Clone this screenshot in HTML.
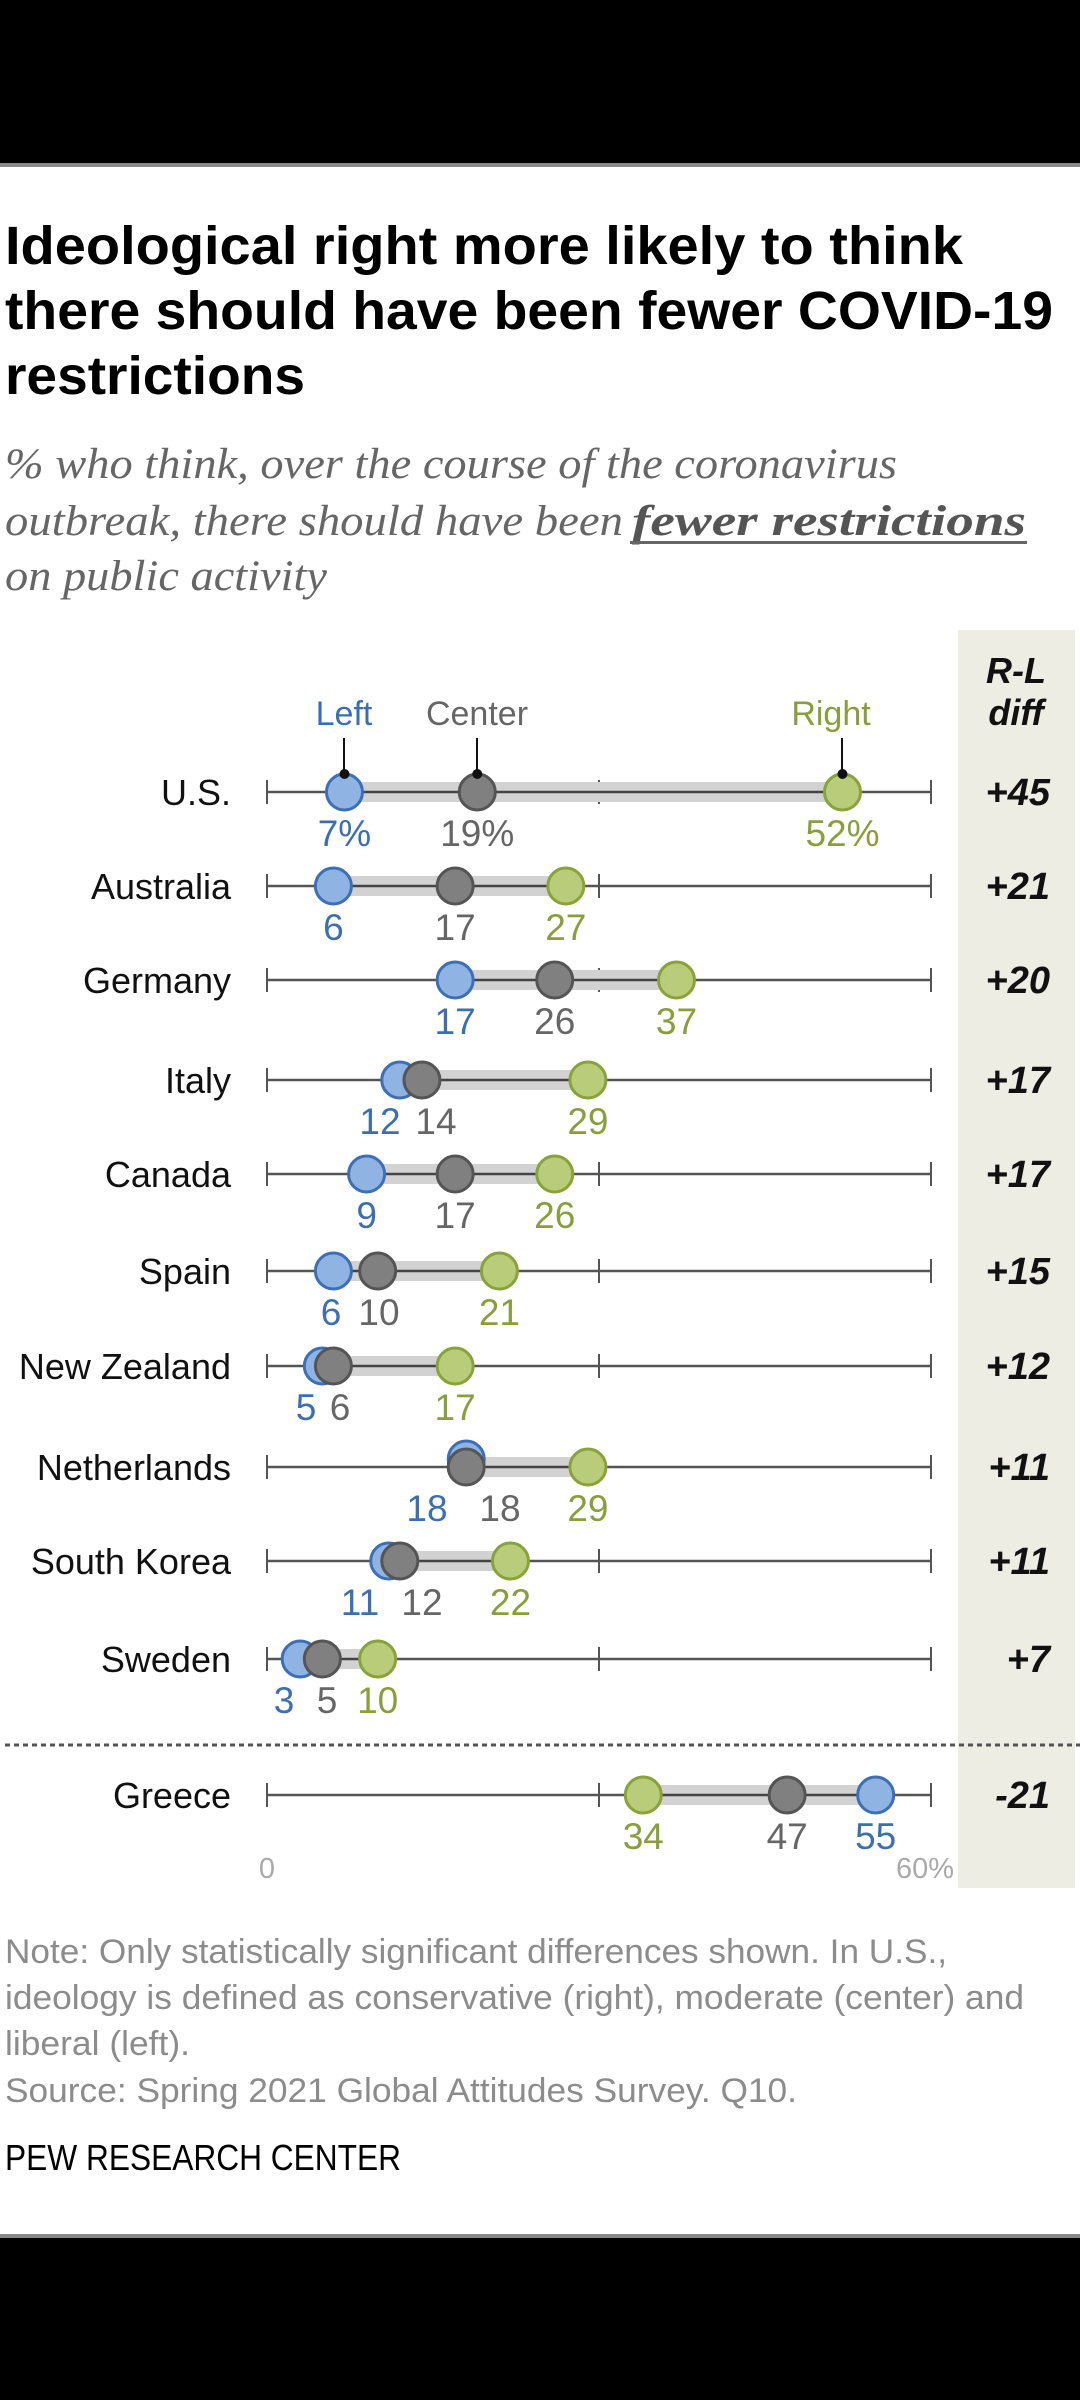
<!DOCTYPE html>
<html><head><meta charset="utf-8"><style>html,body{margin:0;padding:0;background:#fff}svg{display:block}</style></head><body>
<svg width="1080" height="2400" viewBox="0 0 1080 2400" xmlns="http://www.w3.org/2000/svg" font-family="'Liberation Sans', sans-serif">
<rect x="0" y="0" width="1080" height="163" fill="#000"/>
<rect x="0" y="163" width="1080" height="4" fill="#888"/>
<rect x="0" y="2234" width="1080" height="4" fill="#888"/>
<rect x="0" y="2238" width="1080" height="162" fill="#000"/>

<g font-weight="bold" font-size="54" fill="#000">
<text x="5" y="264" textLength="958" lengthAdjust="spacingAndGlyphs">Ideological right more likely to think</text>
<text x="5" y="329" textLength="1048" lengthAdjust="spacingAndGlyphs">there should have been fewer COVID-19</text>
<text x="5" y="394" textLength="300" lengthAdjust="spacingAndGlyphs">restrictions</text>
</g>
<g font-family="'Liberation Serif', serif" font-style="italic" font-size="43" fill="#666">
<text x="5" y="478" textLength="892" lengthAdjust="spacingAndGlyphs">% who think, over the course of the coronavirus</text>
<text x="5" y="535" textLength="618" lengthAdjust="spacingAndGlyphs">outbreak, there should have been</text>
<text x="632" y="535" textLength="394" lengthAdjust="spacingAndGlyphs" font-weight="bold" fill="#555">fewer restrictions</text>
<text x="5" y="590" textLength="322" lengthAdjust="spacingAndGlyphs">on public activity</text>
</g>
<rect x="630" y="541" width="397" height="3" fill="#666"/>

<rect x="958" y="630" width="117" height="1258" fill="#edede3"/>
<g font-weight="bold" font-style="italic" font-size="36" fill="#111" text-anchor="middle">
<text x="1016" y="683">R-L</text>
<text x="1016" y="725">diff</text>
</g>

<g font-size="34" text-anchor="middle">
<text x="344" y="725" fill="#3c6fb2">Left</text>
<text x="477" y="725" fill="#666">Center</text>
<text x="831" y="725" fill="#8a9e3c">Right</text>
</g>
<g stroke="#111" stroke-width="2">
<line x1="344" y1="738" x2="344" y2="772"/>
<line x1="477" y1="738" x2="477" y2="772"/>
<line x1="842" y1="738" x2="842" y2="772"/>
</g>

<g id="rows"></g>

<line x1="5" y1="1745" x2="1080" y2="1745" stroke="#555" stroke-width="3" stroke-dasharray="5,4"/>

<text x="267" y="1878" font-size="29" fill="#aaa" text-anchor="middle">0</text>
<text x="954" y="1878" font-size="29" fill="#aaa" text-anchor="end">60%</text>

<g font-size="34" fill="#8c8c8c">
<text x="5" y="1963" textLength="942" lengthAdjust="spacingAndGlyphs">Note: Only statistically significant differences shown. In U.S.,</text>
<text x="5" y="2009" textLength="1019" lengthAdjust="spacingAndGlyphs">ideology is defined as conservative (right), moderate (center) and</text>
<text x="5" y="2055" textLength="185" lengthAdjust="spacingAndGlyphs">liberal (left).</text>
<text x="5" y="2102" textLength="792" lengthAdjust="spacingAndGlyphs">Source: Spring 2021 Global Attitudes Survey. Q10.</text>
</g>
<text x="5" y="2170" font-size="36" fill="#000" textLength="396" lengthAdjust="spacingAndGlyphs">PEW RESEARCH CENTER</text>

<script>
(function(){
var NS="http://www.w3.org/2000/svg",g=document.getElementById("rows");
function X(v){return 267+v*11.067;}
function el(t,a,txt){var e=document.createElementNS(NS,t);for(var k in a)e.setAttribute(k,a[k]);if(txt!=null)e.textContent=txt;g.appendChild(e);return e;}
var rows=[
["U.S.",792,7,19,52,"+45",null,true],
["Australia",886,6,17,27,"+21"],
["Germany",980,17,26,37,"+20"],
["Italy",1080,12,14,29,"+17",[380,436]],
["Canada",1174,9,17,26,"+17"],
["Spain",1271,6,10,21,"+15",[331,379]],
["New Zealand",1366,5,6,17,"+12",[306,340]],
["Netherlands",1467,18,18,29,"+11",[427,500],false,-8],
["South Korea",1561,11,12,22,"+11",[360,422]],
["Sweden",1659,3,5,10,"+7",[284,327]],
["Greece",1795,55,47,34,"-21"]
];
rows.forEach(function(r){
var y=r[1],L=r[2],C=r[3],R=r[4];
el("text",{x:231,y:y+13,"font-size":36,fill:"#111","text-anchor":"end"},r[0]);
el("line",{x1:267,y1:y,x2:931,y2:y,stroke:"#555","stroke-width":2.5});
[267,599,931].forEach(function(x){el("line",{x1:x,y1:y-12,x2:x,y2:y+12,stroke:"#555","stroke-width":2});});
var mn=Math.min(L,C,R),mx=Math.max(L,C,R);
el("rect",{x:X(mn),y:y-10,width:X(mx)-X(mn),height:20,fill:"#d2d2d2"});
el("line",{x1:X(mn),y1:y,x2:X(mx),y2:y,stroke:"#444","stroke-width":2.5});
var bo=r[8]||0;
el("circle",{cx:X(L),cy:y+bo,r:18,fill:"#8fb4e3",stroke:"#3b6fb6","stroke-width":3});
el("circle",{cx:X(C),cy:y,r:18,fill:"#808080",stroke:"#555","stroke-width":3});
el("circle",{cx:X(R),cy:y,r:18,fill:"#b9cc7a",stroke:"#8aa23a","stroke-width":3});
if(r[7]){[X(L),X(C),X(R)].forEach(function(x){el("circle",{cx:x,cy:y-18,r:5,fill:"#111"});});}
var lx=r[6]||[X(L),X(C)],pct=r[7]?"%":"";
el("text",{x:lx[0],y:y+54,"font-size":37,fill:"#3c6fb2","text-anchor":"middle"},L+pct);
el("text",{x:lx[1],y:y+54,"font-size":37,fill:"#666","text-anchor":"middle"},C+pct);
el("text",{x:X(R),y:y+54,"font-size":37,fill:"#8a9e3c","text-anchor":"middle"},R+pct);
el("text",{x:1050,y:y+13,"font-size":38,"font-weight":"bold","font-style":"italic",fill:"#111","text-anchor":"end"},r[5]);
});
})();
</script>
</svg>
</body></html>
